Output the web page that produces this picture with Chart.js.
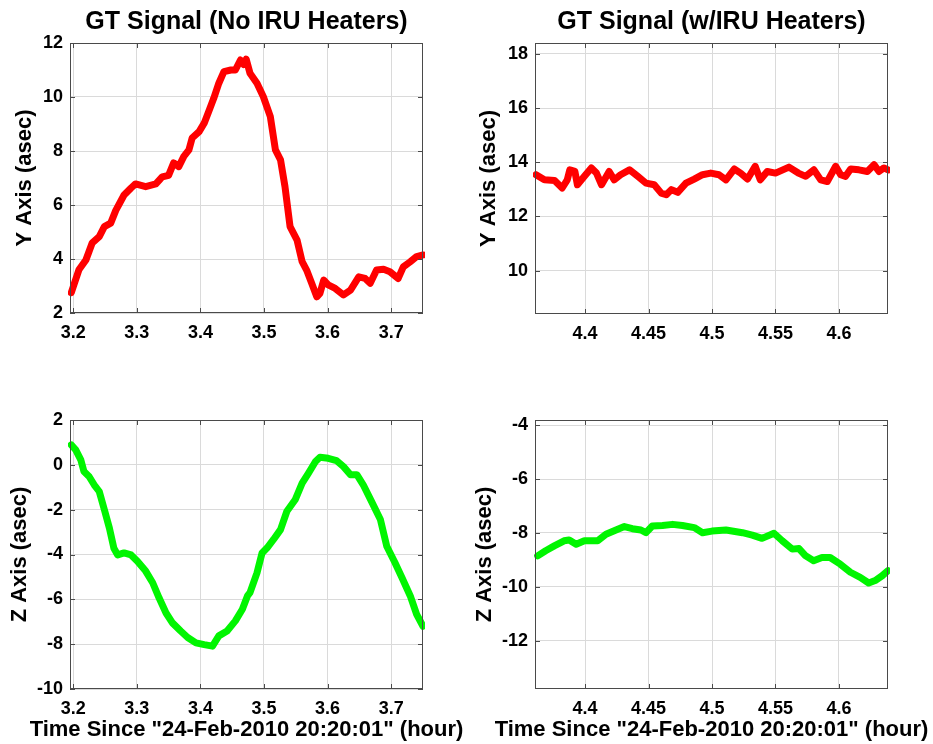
<!DOCTYPE html>
<html>
<head>
<meta charset="utf-8">
<title>GT Signal</title>
<script src="https://cdn.jsdelivr.net/npm/chart.js@4.4.1/dist/chart.umd.min.js"></script>
<style>
  body { margin: 0; background: #fff; }
  #page { position: relative; width: 933px; height: 744px; }
  canvas { position: absolute; }
</style>
</head>
<body>
<div id="page">
  <canvas id="yNoHeat" width="466" height="372" style="left:0;top:0"></canvas>
  <canvas id="yHeat" width="467" height="372" style="left:466px;top:0"></canvas>
  <canvas id="zNoHeat" width="466" height="372" style="left:0;top:372px"></canvas>
  <canvas id="zHeat" width="467" height="372" style="left:466px;top:372px"></canvas>
</div>
<script>
// Y axis, no IRU heaters
const yNoHeatTime = [3.197, 3.209, 3.22, 3.23, 3.241, 3.249, 3.259, 3.267, 3.28, 3.291,
    3.298, 3.314, 3.33, 3.34, 3.35, 3.358, 3.366, 3.374, 3.382, 3.387,
    3.398, 3.406, 3.414, 3.421, 3.429, 3.437, 3.448, 3.455, 3.463, 3.468,
    3.472, 3.478, 3.489, 3.499, 3.51, 3.518, 3.526, 3.533, 3.541, 3.552,
    3.56, 3.567, 3.575, 3.583, 3.588, 3.594, 3.601, 3.612, 3.625, 3.636,
    3.649, 3.659, 3.667, 3.677, 3.688, 3.698, 3.711, 3.719, 3.73, 3.74, 3.75];
const yNoHeatAsec = [2.75, 3.6, 3.96, 4.6, 4.83, 5.2, 5.33, 5.8, 6.37, 6.63,
    6.78, 6.68, 6.78, 7.04, 7.1, 7.56, 7.42, 7.8, 8.04, 8.48,
    8.72, 9.03, 9.52, 9.95, 10.51, 10.94, 11.0, 11.0, 11.37, 11.2,
    11.4, 10.88, 10.51, 10.01, 9.27, 8.04, 7.67, 6.68, 5.2, 4.7,
    3.9, 3.59, 3.1, 2.6, 2.73, 3.22, 3.04, 2.91, 2.67, 2.85,
    3.34, 3.28, 3.1, 3.59, 3.62, 3.53, 3.28, 3.71, 3.9, 4.09, 4.15];

// Y axis, with IRU heaters
const yHeatTime = [4.3614, 4.368, 4.376, 4.382, 4.386, 4.388, 4.392, 4.394, 4.3995, 4.405,
    4.409, 4.413, 4.419, 4.423, 4.428, 4.435, 4.4415, 4.448, 4.4545, 4.46,
    4.464, 4.468, 4.473, 4.4795, 4.486, 4.4925, 4.499, 4.5055, 4.511, 4.5175,
    4.5225, 4.528, 4.534, 4.538, 4.5435, 4.55, 4.5606, 4.568, 4.5738, 4.5803,
    4.5856, 4.5908, 4.5974, 4.6013, 4.6052, 4.6092, 4.6157, 4.6223, 4.6276, 4.6315,
    4.6354, 4.6386];
const yHeatAsec = [13.54, 13.35, 13.33, 13.05, 13.35, 13.72, 13.66, 13.17, 13.48, 13.79,
    13.6, 13.17, 13.66, 13.35, 13.54, 13.72, 13.48, 13.23, 13.17, 12.86,
    12.8, 12.99, 12.89, 13.23, 13.38, 13.54, 13.6, 13.54, 13.35, 13.75,
    13.6, 13.38, 13.85, 13.35, 13.66, 13.6, 13.82, 13.6, 13.48, 13.72,
    13.35, 13.29, 13.85, 13.54, 13.48, 13.75, 13.72, 13.66, 13.91, 13.66,
    13.79, 13.72];

// Z axis, no IRU heaters
const zNoHeatTime = [3.197, 3.204, 3.212, 3.217, 3.225, 3.233, 3.241, 3.249, 3.257, 3.264,
    3.27, 3.28, 3.291, 3.301, 3.314, 3.325, 3.335, 3.346, 3.356, 3.369,
    3.38, 3.393, 3.406, 3.419, 3.429, 3.442, 3.455, 3.466, 3.474, 3.478,
    3.489, 3.497, 3.505, 3.515, 3.526, 3.536, 3.549, 3.56, 3.57, 3.581,
    3.588, 3.601, 3.614, 3.625, 3.636, 3.646, 3.656, 3.669, 3.683, 3.693,
    3.706, 3.717, 3.73, 3.74, 3.75];
const zNoHeatAsec = [0.89, 0.67, 0.22, -0.3, -0.52, -0.89, -1.19, -2.0, -2.83, -3.72,
    -4.02, -3.93, -4.02, -4.3, -4.74, -5.26, -5.93, -6.61, -7.05, -7.41,
    -7.7, -7.94, -8.02, -8.09, -7.63, -7.41, -6.96, -6.44, -5.85, -5.7,
    -4.82, -3.93, -3.7, -3.33, -2.89, -2.07, -1.56, -0.82, -0.37, 0.15,
    0.34, 0.29, 0.19, -0.08, -0.44, -0.44, -0.89, -1.63, -2.44, -3.63,
    -4.37, -5.04, -5.85, -6.67, -7.2];

// Z axis, with IRU heaters
const zHeatTime = [4.3627, 4.369, 4.3758, 4.3835, 4.3875, 4.393, 4.3995, 4.41, 4.4165, 4.4244,
    4.431, 4.4373, 4.444, 4.448, 4.453, 4.461, 4.469, 4.4767, 4.486, 4.4925,
    4.5, 4.511, 4.524, 4.5317, 4.5394, 4.5488, 4.5553, 4.5632, 4.5685, 4.5737,
    4.58, 4.5866, 4.593, 4.601, 4.609, 4.6167, 4.6234, 4.6285, 4.634, 4.6386];
const zHeatAsec = [-8.85, -8.66, -8.48, -8.29, -8.26, -8.42, -8.29, -8.29, -8.05, -7.89,
    -7.76, -7.84, -7.89, -7.99, -7.74, -7.72, -7.68, -7.72, -7.8, -7.99,
    -7.93, -7.89, -7.99, -8.08, -8.2, -8.01, -8.29, -8.6, -8.58, -8.85,
    -9.03, -8.91, -8.91, -9.16, -9.46, -9.65, -9.86, -9.77, -9.59, -9.4];

// tick labels
const timeTicksNoHeat = [3.2, 3.3, 3.4, 3.5, 3.6, 3.7];
const timeTicksHeat = [4.4, 4.45, 4.5, 4.55, 4.6];
const yTicksNoHeat = [2, 4, 6, 8, 10, 12];
const yTicksHeat = [10, 12, 14, 16, 18];
const zTicksNoHeat = [-10, -8, -6, -4, -2, 0, 2];
const zTicksHeat = [-12, -10, -8, -6, -4];

const timeLabel = 'Time Since "24-Feb-2010 20:20:01" (hour)';
const fontFamily = "'Liberation Sans', Arial, Helvetica, sans-serif";
const gridColor = '#dadada';

// box round the plot area with inward tick marks on all four sides,
// plus the time label under the x axis (drawn here so it is not squeezed
// to the width of the plot area)
const frame = {
    id: 'frame',
    afterDraw(chart, args, opts) {
        const { ctx, chartArea: a, scales } = chart;
        ctx.save();
        ctx.strokeStyle = '#4a4a4a';
        ctx.lineWidth = 1;
        ctx.beginPath();
        scales.x.ticks.forEach(t => {
            const px = Math.round(scales.x.getPixelForValue(t.value)) + 0.5;
            ctx.moveTo(px, a.bottom); ctx.lineTo(px, a.bottom - 5);
            ctx.moveTo(px, a.top); ctx.lineTo(px, a.top + 5);
        });
        scales.y.ticks.forEach(t => {
            const py = Math.round(scales.y.getPixelForValue(t.value)) + 0.5;
            ctx.moveTo(a.left, py); ctx.lineTo(a.left + 5, py);
            ctx.moveTo(a.right, py); ctx.lineTo(a.right - 5, py);
        });
        ctx.stroke();
        ctx.strokeRect(Math.round(a.left) + 0.5, Math.round(a.top) + 0.5,
            Math.round(a.right - a.left) - 1, Math.round(a.bottom - a.top) - 1);

        if (opts.xLabel) {
            ctx.fillStyle = '#000';
            ctx.font = 'bold 22px ' + fontFamily;
            ctx.textAlign = 'center';
            ctx.textBaseline = 'middle';
            ctx.fillText(opts.xLabel, (a.left + a.right) / 2, opts.xLabelY);
        }
        ctx.restore();
    }
};

function makePanel(id, p) {
    let ctx = document.getElementById(id).getContext('2d');
    let points = p.times.map((t, i) => ({ x: t, y: p.values[i] }));
    return new Chart(ctx, {
        type: 'line',
        data: {
            datasets: [{
                data: points,
                borderColor: p.color,
                borderWidth: 7,
                borderJoinStyle: 'round',
                borderCapStyle: 'round',
                pointRadius: 0,
                tension: 0,
                clip: 2
            }]
        },
        options: {
            responsive: false,
            animation: false,
            events: [],
            layout: { padding: { top: p.title ? 0 : p.areaTop, right: p.padRight, left: 0, bottom: 0 } },
            plugins: {
                legend: { display: false },
                tooltip: { enabled: false },
                title: {
                    display: !!p.title,
                    fullSize: false,
                    text: p.title || '',
                    color: '#000',
                    font: { family: fontFamily, size: 25, weight: 'bold', lineHeight: 1.2 },
                    padding: { top: 7, bottom: p.areaTop - 37 }
                },
                frame: {
                    xLabel: p.showTime ? timeLabel : '',
                    xLabelY: 358
                }
            },
            scales: {
                x: {
                    type: 'linear',
                    min: p.xMin,
                    max: p.xMax,
                    afterBuildTicks: s => { s.ticks = p.xTicks.map(v => ({ value: v })); },
                    afterFit: s => { s.height = p.xAxisHeight; },
                    grid: { color: gridColor, drawTicks: false },
                    border: { display: false },
                    ticks: {
                        color: '#000',
                        font: { family: fontFamily, size: 18, weight: 'bold' },
                        padding: 9,
                        maxRotation: 0,
                        autoSkip: false,
                        callback: v => String(v)
                    }
                },
                y: {
                    type: 'linear',
                    min: p.yMin,
                    max: p.yMax,
                    afterBuildTicks: s => { s.ticks = p.yTicks.map(v => ({ value: v })); },
                    afterFit: s => { s.width = p.areaLeft; },
                    grid: { color: gridColor, drawTicks: false },
                    border: { display: false },
                    ticks: {
                        color: '#000',
                        font: { family: fontFamily, size: 18, weight: 'bold' },
                        padding: 7,
                        autoSkip: false,
                        callback: v => String(v)
                    },
                    title: {
                        display: true,
                        text: p.yLabel,
                        color: '#000',
                        font: { family: fontFamily, size: 22, weight: 'bold', lineHeight: 1.2 },
                        padding: { top: p.yLabelCenter - 13.2, bottom: 0 }
                    }
                }
            }
        },
        plugins: [frame]
    });
}

makePanel('yNoHeat', {
    title: 'GT Signal (No IRU Heaters)', times: yNoHeatTime, values: yNoHeatAsec, color: '#ff0000',
    xMin: 3.195, xMax: 3.75, xTicks: timeTicksNoHeat, yMin: 2, yMax: 12, yTicks: yTicksNoHeat,
    yLabel: 'Y Axis (asec)', yLabelCenter: 25, areaLeft: 70, areaTop: 43, padRight: 43,
    xAxisHeight: 59, showTime: false
});

makePanel('yHeat', {
    title: 'GT Signal (w/IRU Heaters)', times: yHeatTime, values: yHeatAsec, color: '#ff0000',
    xMin: 4.3606, xMax: 4.6386, xTicks: timeTicksHeat, yMin: 8.4, yMax: 18.4, yTicks: yTicksHeat,
    yLabel: 'Y Axis (asec)', yLabelCenter: 23, areaLeft: 69, areaTop: 43, padRight: 45,
    xAxisHeight: 58, showTime: false
});

makePanel('zNoHeat', {
    times: zNoHeatTime, values: zNoHeatAsec, color: '#00f500',
    xMin: 3.195, xMax: 3.75, xTicks: timeTicksNoHeat, yMin: -10, yMax: 2, yTicks: zTicksNoHeat,
    yLabel: 'Z Axis (asec)', yLabelCenter: 20, areaLeft: 70, areaTop: 48, padRight: 43,
    xAxisHeight: 55, showTime: true
});

makePanel('zHeat', {
    times: zHeatTime, values: zHeatAsec, color: '#00f500',
    xMin: 4.3606, xMax: 4.6386, xTicks: timeTicksHeat, yMin: -13.8, yMax: -3.8, yTicks: zTicksHeat,
    yLabel: 'Z Axis (asec)', yLabelCenter: 19, areaLeft: 69, areaTop: 48, padRight: 45,
    xAxisHeight: 55, showTime: true
});
</script>
</body>
</html>
